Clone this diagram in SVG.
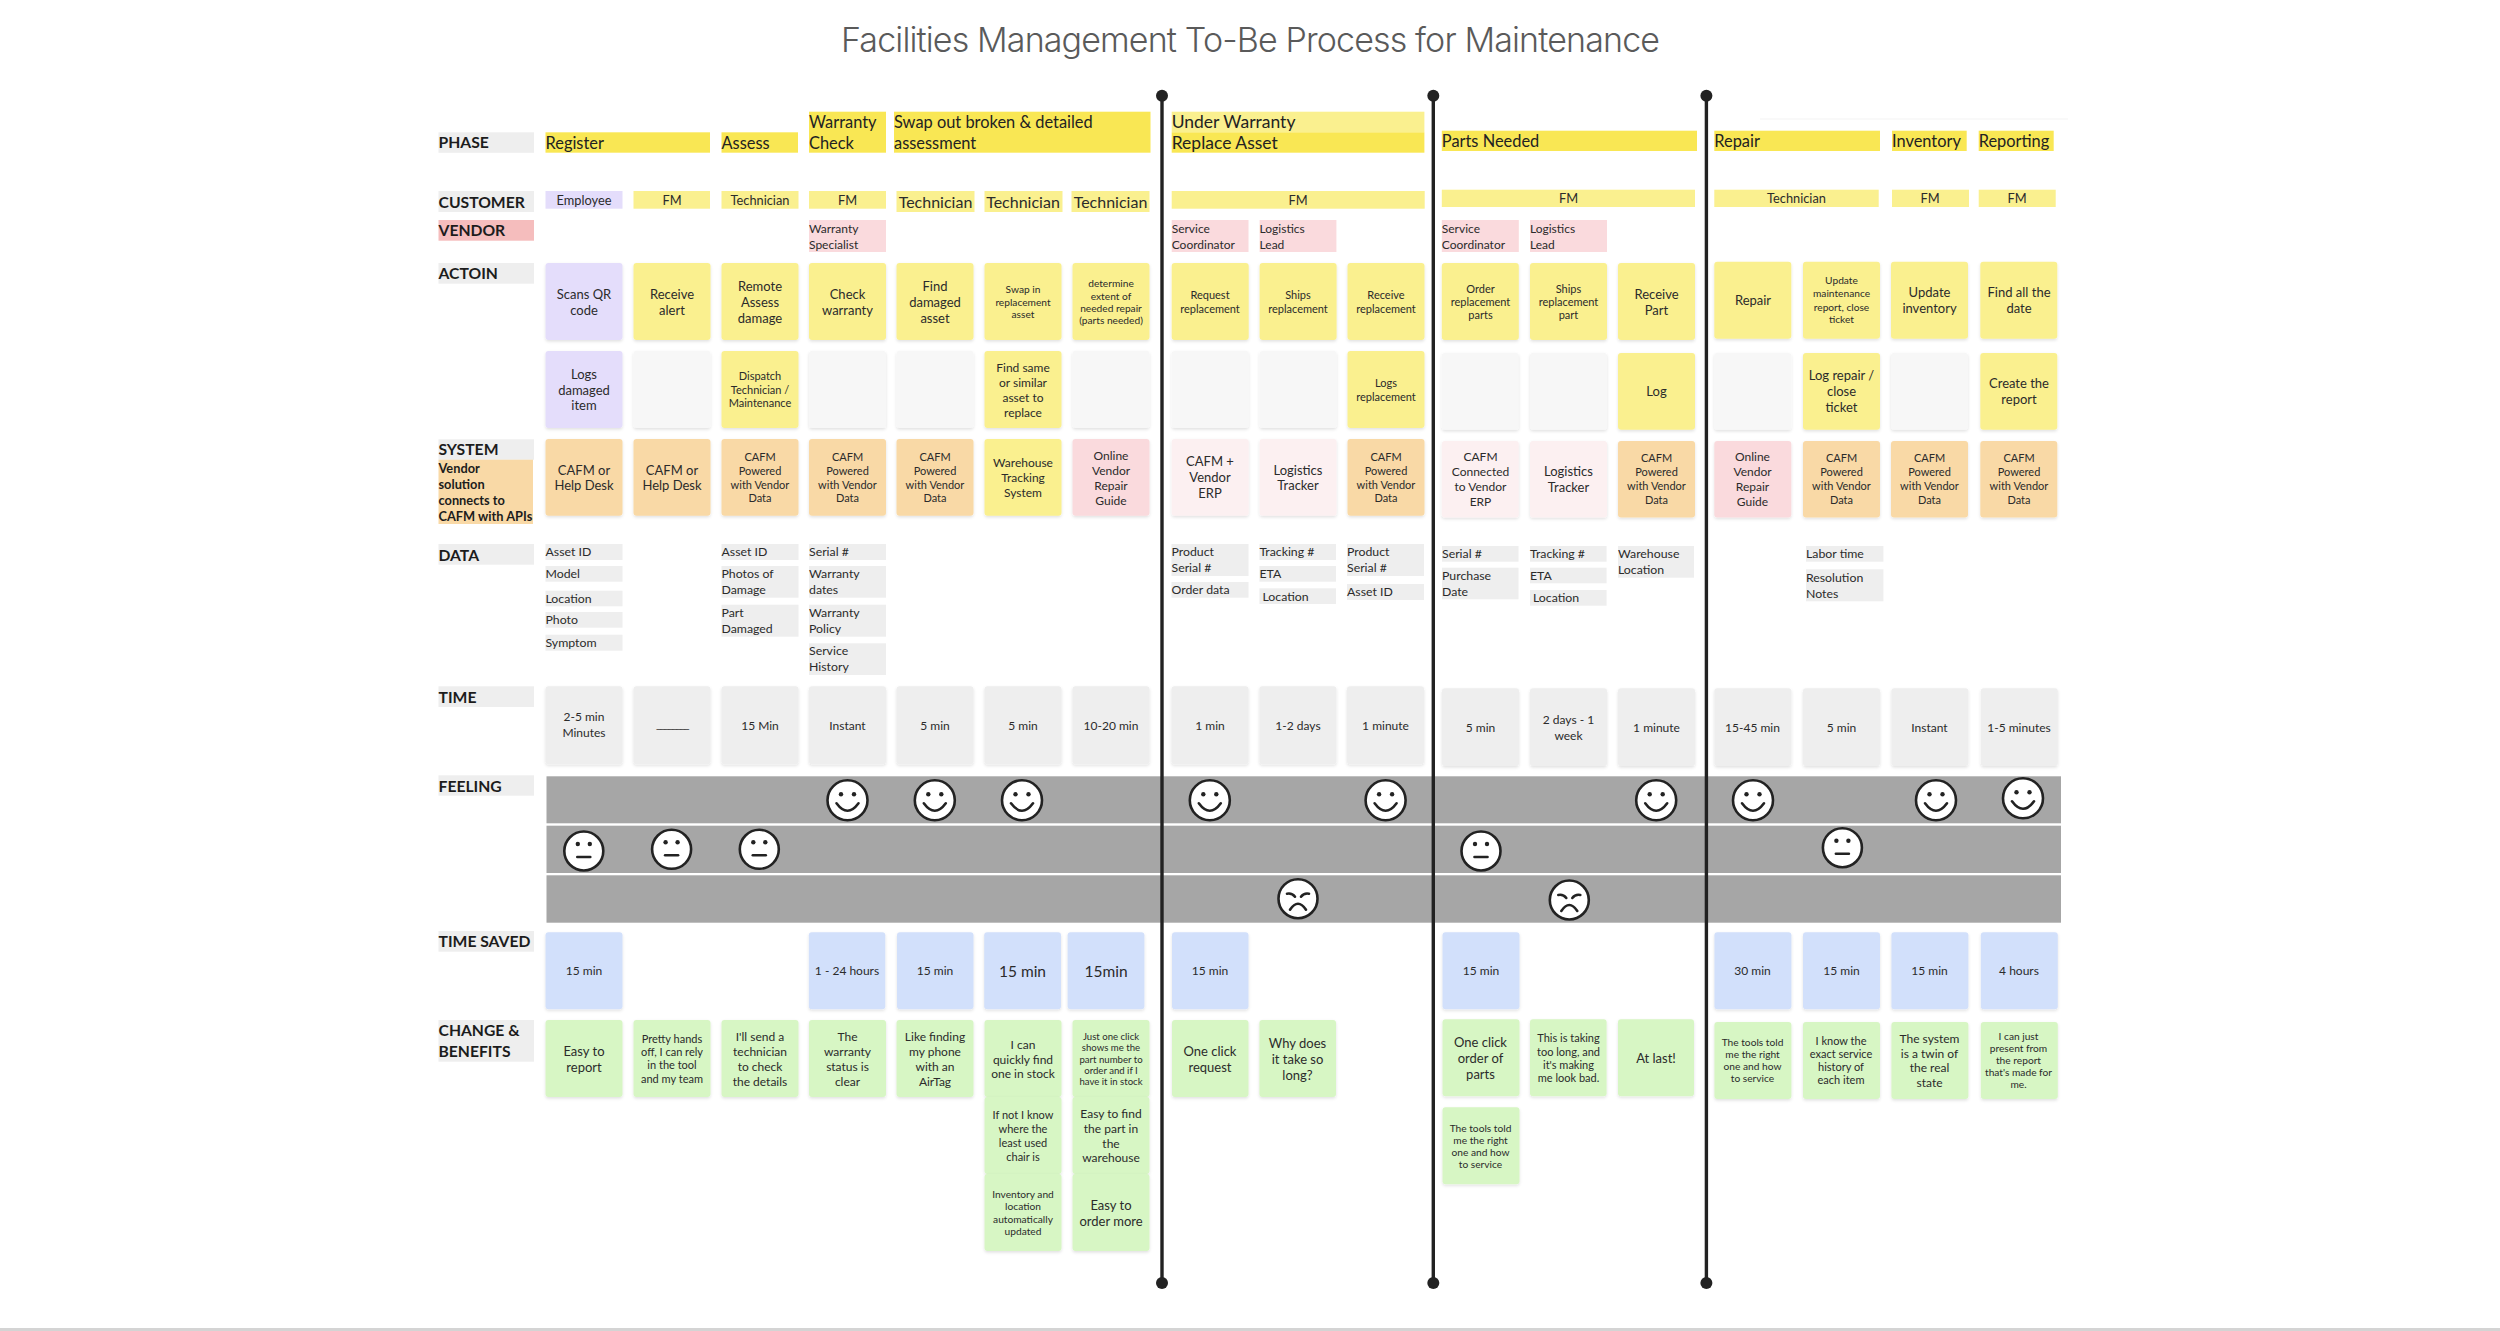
<svg xmlns="http://www.w3.org/2000/svg" width="2500" height="1331" viewBox="0 0 2500 1331">
<style>
text{font-family:Lato,"Open Sans","Liberation Sans",sans-serif;fill:#2b2b2b;font-size:12.3px}
.m{text-anchor:middle}
.card{filter:url(#sh)}
.lab{font-weight:700;font-size:15.7px;fill:#1c1c1c}
.ph{font-size:16.4px;fill:#222}
.f9{font-size:9.6px}.f10{font-size:10.2px}.f11{font-size:11px}.f12{font-size:12px}.f13{font-size:13px}.f15{font-size:15.5px}.f16{font-size:16px}
#customers .f12{font-size:12.8px}
#p-under text,#p-replace text{font-size:17.5px}
#t2 text{letter-spacing:-1.5px}
.y{fill:#f9e754}.ly{fill:#faf08f}.pu{fill:#e4ddfb}.or{fill:#f9d9a6}.pk{fill:#fadadd}.lp{fill:#fcf0f1}.gr{fill:#eeeeee}.em{fill:#f7f7f7}.gn{fill:#d7f6c4}.bl{fill:#d2e0fb}
.band{fill:#a6a6a6}
.face{fill:#fff;stroke:#222;stroke-width:2.6}
.fl{fill:none;stroke:#222;stroke-width:2.6;stroke-linecap:round}
.conn{stroke:#222;stroke-width:3.4;fill:none;marker-start:url(#dot);marker-end:url(#dot)}
</style>
<defs>
<filter id="sh" x="-10%" y="-10%" width="120%" height="120%"><feDropShadow dx="0" dy="1.5" stdDeviation="1.5" flood-color="#000" flood-opacity="0.12"/></filter>
<marker id="dot" markerUnits="userSpaceOnUse" markerWidth="14" markerHeight="14" refX="7" refY="7"><circle cx="7" cy="7" r="6" fill="#222"/></marker>
<g id="happy"><circle class="face" r="20"/><circle cx="-6.5" cy="-6" r="2.2" fill="#222"/><circle cx="6.5" cy="-6" r="2.2" fill="#222"/><path class="fl" d="M-11 3Q0 18 11 3"/></g>
<g id="neutral"><circle class="face" r="19.5"/><circle cx="-6" cy="-7" r="2.2" fill="#222"/><circle cx="6" cy="-7" r="2.2" fill="#222"/><path class="fl" d="M-6.500 6H6.500"/></g>
<g id="sad"><circle class="face" r="19.500"/><path class="fl" d="M-11 -5Q-6 -6 -3 -2M11 -5Q6 -6 3 -2"/><path class="fl" d="M-8 11Q0 -1 8 11"/></g>
</defs>
<rect width="2500" height="1331" fill="#fff"/>
<rect x="0" y="1328" width="2500" height="3" fill="#d4d4d4"/>
<rect x="1760" y="118.500" width="308" height="1" fill="#f3f3f3"/>
<text id="title" x="841" y="51.500" style="font-family:Inter,'Liberation Sans',sans-serif;font-weight:300;font-size:34px;fill:#5a5a5a" textLength="819" lengthAdjust="spacing">Facilities Management To-Be Process for Maintenance</text>

<g id="row-labels">
<g id="l-phase"><rect class="gr" x="438.500" y="132.300" width="95.500" height="20.500"/><text class="lab" x="438.500" y="148">PHASE</text></g>
<g id="l-customer"><rect class="gr" x="438.500" y="191" width="95.500" height="21"/><text class="lab" x="438.500" y="207.500">CUSTOMER</text></g>
<g id="l-vendor"><rect x="438.500" y="220" width="95.500" height="20.700" fill="#f5bdbd"/><text class="lab" x="438.500" y="236">VENDOR</text></g>
<g id="l-action"><rect class="gr" x="438.500" y="263" width="95.500" height="20.700"/><text class="lab" x="438.500" y="279">ACTOIN</text></g>
<g id="l-system"><rect class="gr" x="438.500" y="439.300" width="95.500" height="20.500"/><text class="lab" x="438.500" y="455">SYSTEM</text></g>
<g id="l-vendor-solution"><rect class="or" x="438.500" y="459.700" width="94.500" height="64.300"/><text style="font-weight:700;font-size:12.800px;fill:#1c1c1c"><tspan x="438.500" y="472.500">Vendor</tspan><tspan x="438.500" y="488.500">solution</tspan><tspan x="438.500" y="504.500">connects to</tspan><tspan x="438.500" y="520.500">CAFM with APIs</tspan></text></g>
<g id="l-data"><rect class="gr" x="438.500" y="544" width="95.500" height="20.700"/><text class="lab" x="438.500" y="560.500">DATA</text></g>
<g id="l-time"><rect class="gr" x="438.500" y="686.300" width="95.500" height="20.700"/><text class="lab" x="438.500" y="702.500">TIME</text></g>
<g id="l-feeling"><rect class="gr" x="438.500" y="775.300" width="95.500" height="20.400"/><text class="lab" x="438.500" y="791.500">FEELING</text></g>
<g id="l-saved"><rect class="gr" x="438.500" y="931" width="95.500" height="20.700"/><text class="lab" x="438.500" y="946.500">TIME SAVED</text></g>
<g id="l-change"><rect class="gr" x="438.500" y="1020" width="95.500" height="41.700"/><text class="lab"><tspan x="438.500" y="1036">CHANGE &amp;</tspan><tspan x="438.500" y="1057">BENEFITS</tspan></text></g>
</g>

<g id="phases">
<g id="p-register"><rect class="y" x="545.500" y="132.300" width="164.500" height="20.400"/><text class="ph" x="545.500" y="148.500">Register</text></g>
<g id="p-assess"><rect class="y" x="721.500" y="132.300" width="76.500" height="20.400"/><text class="ph" x="721.500" y="148.500">Assess</text></g>
<g id="p-warranty"><rect class="y" x="809" y="111.700" width="77" height="41"/><text class="ph"><tspan x="809" y="128">Warranty</tspan><tspan x="809" y="148.500">Check</tspan></text></g>
<g id="p-swap"><rect class="y" x="894" y="111.700" width="256.500" height="41"/><text class="ph"><tspan x="894" y="128">Swap out broken &amp; detailed</tspan><tspan x="894" y="148.500">assessment</tspan></text></g>
<g id="p-under"><rect class="ly" x="1171.700" y="111.700" width="252.700" height="20.600"/><text class="ph" x="1171.700" y="128">Under Warranty</text></g>
<g id="p-replace"><rect class="y" x="1171.700" y="132.300" width="252.700" height="20.400"/><text class="ph" x="1171.700" y="148.500">Replace Asset</text></g>
<g id="p-parts"><rect class="y" x="1441.800" y="130.700" width="255.200" height="20.300"/><text class="ph" x="1441.800" y="147">Parts Needed</text></g>
<g id="p-repair"><rect class="y" x="1714.300" y="130.700" width="165.700" height="20.300"/><text class="ph" x="1714.300" y="147">Repair</text></g>
<g id="p-inventory"><rect class="y" x="1892" y="130.700" width="74.700" height="20.300"/><text class="ph" x="1892" y="147">Inventory</text></g>
<g id="p-reporting"><rect class="y" x="1978.700" y="130.700" width="75" height="20.300"/><text class="ph" x="1978.700" y="147">Reporting</text></g>
</g>

<g id="customers">
<g id="c1"><rect class="pu" x="545.500" y="191" width="77" height="17.700"/><text class="m f12" x="584" y="204.500">Employee</text></g>
<g id="c2"><rect class="ly" x="633.500" y="191" width="76.500" height="17.700"/><text class="m f12" x="672" y="204.500">FM</text></g>
<g id="c3"><rect class="ly" x="721.500" y="191" width="77" height="17.700"/><text class="m f12" x="760" y="204.500">Technician</text></g>
<g id="c4"><rect class="ly" x="809" y="191" width="77" height="17.700"/><text class="m f12" x="847.500" y="204.500">FM</text></g>
<g id="c5"><rect class="ly" x="896.500" y="191" width="78" height="21"/><text class="m f16" x="935.500" y="207.500">Technician</text></g>
<g id="c6"><rect class="ly" x="984.500" y="191" width="78" height="21"/><text class="m f16" x="1023" y="207.500">Technician</text></g>
<g id="c7"><rect class="ly" x="1071.500" y="191" width="78" height="21"/><text class="m f16" x="1110.500" y="207.500">Technician</text></g>
<g id="c8"><rect class="ly" x="1171.700" y="191" width="253" height="17.700"/><text class="m f12" x="1298" y="204.500">FM</text></g>
<g id="c9"><rect class="ly" x="1441.800" y="189.700" width="253.200" height="17.300"/><text class="m f12" x="1568.500" y="203">FM</text></g>
<g id="c10"><rect class="ly" x="1714.300" y="189.700" width="164.400" height="17.300"/><text class="m f12" x="1796.500" y="203">Technician</text></g>
<g id="c11"><rect class="ly" x="1892" y="189.700" width="77" height="17.300"/><text class="m f12" x="1930" y="203">FM</text></g>
<g id="c12"><rect class="ly" x="1978.700" y="189.700" width="77" height="17.300"/><text class="m f12" x="2017" y="203">FM</text></g>
</g>

<g id="vendors">
<g id="v1"><rect class="pk" x="809" y="220" width="77" height="32"/><text class="f12"><tspan x="809" y="232.500">Warranty</tspan><tspan x="809" y="248.700">Specialist</tspan></text></g>
<g id="v2"><rect class="pk" x="1171.700" y="220" width="76.800" height="32"/><text class="f12"><tspan x="1171.700" y="232.500">Service</tspan><tspan x="1171.700" y="248.700">Coordinator</tspan></text></g>
<g id="v3"><rect class="pk" x="1259.600" y="220" width="76.800" height="32"/><text class="f12"><tspan x="1259.600" y="232.500">Logistics</tspan><tspan x="1259.600" y="248.700">Lead</tspan></text></g>
<g id="v4"><rect class="pk" x="1441.800" y="220" width="77" height="32"/><text class="f12"><tspan x="1441.800" y="232.500">Service</tspan><tspan x="1441.800" y="248.700">Coordinator</tspan></text></g>
<g id="v5"><rect class="pk" x="1530" y="220" width="77" height="32"/><text class="f12"><tspan x="1530" y="232.500">Logistics</tspan><tspan x="1530" y="248.700">Lead</tspan></text></g>
</g>

<g id="actions">
<g id="a1"><rect class="pu card" x="545.500" y="263" width="77" height="77" rx="3"/><text class="m f13"><tspan x="584" y="298.500">Scans QR</tspan><tspan x="584" y="314.500">code</tspan></text></g>
<g id="a2"><rect class="ly card" x="633.500" y="263" width="77" height="77" rx="3"/><text class="m f13"><tspan x="672" y="298.500">Receive</tspan><tspan x="672" y="314.500">alert</tspan></text></g>
<g id="a3"><rect class="ly card" x="721.500" y="263" width="77" height="77" rx="3"/><text class="m f13"><tspan x="760" y="290.500">Remote</tspan><tspan x="760" y="306.500">Assess</tspan><tspan x="760" y="322.500">damage</tspan></text></g>
<g id="a4"><rect class="ly card" x="809" y="263" width="77" height="77" rx="3"/><text class="m f13"><tspan x="847.500" y="298.500">Check</tspan><tspan x="847.500" y="314.500">warranty</tspan></text></g>
<g id="a5"><rect class="ly card" x="896.500" y="263" width="77" height="77" rx="3"/><text class="m f13"><tspan x="935" y="290.500">Find</tspan><tspan x="935" y="306.500">damaged</tspan><tspan x="935" y="322.500">asset</tspan></text></g>
<g id="a6"><rect class="ly card" x="984.500" y="263" width="77" height="77" rx="3"/><text class="m f10"><tspan x="1023" y="292.500">Swap in</tspan><tspan x="1023" y="305.500">replacement</tspan><tspan x="1023" y="318">asset</tspan></text></g>
<g id="a7"><rect class="ly card" x="1072.500" y="263" width="77" height="77" rx="3"/><text class="m f10"><tspan x="1111" y="287">determine</tspan><tspan x="1111" y="299.500">extent of</tspan><tspan x="1111" y="312">needed repair</tspan><tspan x="1111" y="324">(parts needed)</tspan></text></g>
<g id="a8"><rect class="pu card" x="545.500" y="351" width="77" height="77" rx="3"/><text class="m f13"><tspan x="584" y="378.500">Logs</tspan><tspan x="584" y="394.500">damaged</tspan><tspan x="584" y="410">item</tspan></text></g>
<g id="a9"><rect class="em card" x="633.500" y="351" width="77" height="77" rx="3"/></g>
<g id="a10"><rect class="ly card" x="721.500" y="351" width="77" height="77" rx="3"/><text class="m f11"><tspan x="760" y="380">Dispatch</tspan><tspan x="760" y="394">Technician /</tspan><tspan x="760" y="407">Maintenance</tspan></text></g>
<g id="a11"><rect class="em card" x="809" y="351" width="77" height="77" rx="3"/></g>
<g id="a12"><rect class="em card" x="896.500" y="351" width="77" height="77" rx="3"/></g>
<g id="a13"><rect class="ly card" x="984.500" y="351" width="77" height="77" rx="3"/><text class="m f12"><tspan x="1023" y="371.500">Find same</tspan><tspan x="1023" y="386.500">or similar</tspan><tspan x="1023" y="401.500">asset to</tspan><tspan x="1023" y="416.500">replace</tspan></text></g>
<g id="a14"><rect class="em card" x="1072.500" y="351" width="77" height="77" rx="3"/></g>
<g id="a15"><rect class="ly card" x="1171.700" y="263" width="77" height="77" rx="3"/><text class="m f11"><tspan x="1210" y="299">Request</tspan><tspan x="1210" y="313">replacement</tspan></text></g>
<g id="a16"><rect class="ly card" x="1259.600" y="263" width="77" height="77" rx="3"/><text class="m f11"><tspan x="1298" y="299">Ships</tspan><tspan x="1298" y="313">replacement</tspan></text></g>
<g id="a17"><rect class="ly card" x="1347.500" y="263" width="77" height="77" rx="3"/><text class="m f11"><tspan x="1386" y="299">Receive</tspan><tspan x="1386" y="313">replacement</tspan></text></g>
<g id="a18"><rect class="em card" x="1171.700" y="351" width="77" height="77" rx="3"/></g>
<g id="a19"><rect class="em card" x="1259.600" y="351" width="77" height="77" rx="3"/></g>
<g id="a20"><rect class="ly card" x="1347.500" y="351" width="77" height="77" rx="3"/><text class="m f11"><tspan x="1386" y="387">Logs</tspan><tspan x="1386" y="401">replacement</tspan></text></g>
<g id="a21"><rect class="ly card" x="1441.800" y="263" width="77" height="77" rx="3"/><text class="m f11"><tspan x="1480.500" y="292.500">Order</tspan><tspan x="1480.500" y="305.500">replacement</tspan><tspan x="1480.500" y="319">parts</tspan></text></g>
<g id="a22"><rect class="ly card" x="1530" y="263" width="77" height="77" rx="3"/><text class="m f11"><tspan x="1568.500" y="292.500">Ships</tspan><tspan x="1568.500" y="305.500">replacement</tspan><tspan x="1568.500" y="319">part</tspan></text></g>
<g id="a23"><rect class="ly card" x="1618" y="263" width="77" height="77" rx="3"/><text class="m f13"><tspan x="1656.500" y="298.500">Receive</tspan><tspan x="1656.500" y="314.500">Part</tspan></text></g>
<g id="a24"><rect class="em card" x="1441.800" y="353" width="77" height="76.700" rx="3"/></g>
<g id="a25"><rect class="em card" x="1530" y="353" width="77" height="76.700" rx="3"/></g>
<g id="a26"><rect class="ly card" x="1618" y="353" width="77" height="76.700" rx="3"/><text class="m f13" x="1656.500" y="396">Log</text></g>
<g id="a27"><rect class="ly card" x="1714.300" y="261.700" width="77" height="77" rx="3"/><text class="m f13" x="1753" y="304.500">Repair</text></g>
<g id="a28"><rect class="ly card" x="1803" y="261.700" width="77" height="77" rx="3"/><text class="m f10"><tspan x="1841.500" y="284">Update</tspan><tspan x="1841.500" y="297">maintenance</tspan><tspan x="1841.500" y="310.500">report,  close</tspan><tspan x="1841.500" y="323">ticket</tspan></text></g>
<g id="a29"><rect class="ly card" x="1891" y="261.700" width="77" height="77" rx="3"/><text class="m f13"><tspan x="1929.500" y="297">Update</tspan><tspan x="1929.500" y="313">inventory</tspan></text></g>
<g id="a30"><rect class="ly card" x="1980.300" y="261.700" width="77" height="77" rx="3"/><text class="m f13"><tspan x="2019" y="297">Find all the</tspan><tspan x="2019" y="313">date</tspan></text></g>
<g id="a31"><rect class="em card" x="1714.300" y="353" width="77" height="76.700" rx="3"/></g>
<g id="a32"><rect class="ly card" x="1803" y="353" width="77" height="76.700" rx="3"/><text class="m f13"><tspan x="1841.500" y="380">Log repair /</tspan><tspan x="1841.500" y="396">close</tspan><tspan x="1841.500" y="412">ticket</tspan></text></g>
<g id="a33"><rect class="em card" x="1891" y="353" width="77" height="76.700" rx="3"/></g>
<g id="a34"><rect class="ly card" x="1980.300" y="353" width="77" height="76.700" rx="3"/><text class="m f13"><tspan x="2019" y="388">Create the</tspan><tspan x="2019" y="404">report</tspan></text></g>
</g>

<g id="systems">
<g id="s1"><rect class="or card" x="545.500" y="439" width="77" height="76.700" rx="3"/><text class="m f13"><tspan x="584" y="474.500">CAFM or</tspan><tspan x="584" y="490">Help Desk</tspan></text></g>
<g id="s2"><rect class="or card" x="633.500" y="439" width="77" height="76.700" rx="3"/><text class="m f13"><tspan x="672" y="474.500">CAFM or</tspan><tspan x="672" y="490">Help Desk</tspan></text></g>
<g id="s3"><rect class="or card" x="721.500" y="439" width="77" height="76.700" rx="3"/><text class="m f11"><tspan x="760" y="460.500">CAFM</tspan><tspan x="760" y="474.500">Powered</tspan><tspan x="760" y="488.500">with Vendor</tspan><tspan x="760" y="502">Data</tspan></text></g>
<g id="s4"><rect class="or card" x="809" y="439" width="77" height="76.700" rx="3"/><text class="m f11"><tspan x="847.500" y="460.500">CAFM</tspan><tspan x="847.500" y="474.500">Powered</tspan><tspan x="847.500" y="488.500">with Vendor</tspan><tspan x="847.500" y="502">Data</tspan></text></g>
<g id="s5"><rect class="or card" x="896.500" y="439" width="77" height="76.700" rx="3"/><text class="m f11"><tspan x="935" y="460.500">CAFM</tspan><tspan x="935" y="474.500">Powered</tspan><tspan x="935" y="488.500">with Vendor</tspan><tspan x="935" y="502">Data</tspan></text></g>
<g id="s6"><rect class="ly card" x="984.500" y="439" width="77" height="76.700" rx="3"/><text class="m f12"><tspan x="1023" y="467">Warehouse</tspan><tspan x="1023" y="482">Tracking</tspan><tspan x="1023" y="497">System</tspan></text></g>
<g id="s7"><rect class="pk card" x="1072.500" y="439" width="77" height="76.700" rx="3"/><text class="m f12"><tspan x="1111" y="459.500">Online</tspan><tspan x="1111" y="474.500">Vendor</tspan><tspan x="1111" y="489.500">Repair</tspan><tspan x="1111" y="504.500">Guide</tspan></text></g>
<g id="s8"><rect class="lp card" x="1171.700" y="439" width="77" height="76.700" rx="3"/><text class="m f13"><tspan x="1210" y="466">CAFM +</tspan><tspan x="1210" y="482">Vendor</tspan><tspan x="1210" y="498">ERP</tspan></text></g>
<g id="s9"><rect class="lp card" x="1259.600" y="439" width="77" height="76.700" rx="3"/><text class="m f13"><tspan x="1298" y="474.500">Logistics</tspan><tspan x="1298" y="490">Tracker</tspan></text></g>
<g id="s10"><rect class="or card" x="1347.500" y="439" width="77" height="76.700" rx="3"/><text class="m f11"><tspan x="1386" y="460.500">CAFM</tspan><tspan x="1386" y="474.500">Powered</tspan><tspan x="1386" y="488.500">with Vendor</tspan><tspan x="1386" y="502">Data</tspan></text></g>
<g id="s11"><rect class="lp card" x="1441.800" y="441" width="77" height="76.400" rx="3"/><text class="m f12"><tspan x="1480.500" y="461">CAFM</tspan><tspan x="1480.500" y="476">Connected</tspan><tspan x="1480.500" y="491">to Vendor</tspan><tspan x="1480.500" y="505.500">ERP</tspan></text></g>
<g id="s12"><rect class="lp card" x="1530" y="441" width="77" height="76.400" rx="3"/><text class="m f13"><tspan x="1568.500" y="476">Logistics</tspan><tspan x="1568.500" y="492">Tracker</tspan></text></g>
<g id="s13"><rect class="or card" x="1618" y="441" width="77" height="76.400" rx="3"/><text class="m f11"><tspan x="1656.500" y="462">CAFM</tspan><tspan x="1656.500" y="476">Powered</tspan><tspan x="1656.500" y="490">with Vendor</tspan><tspan x="1656.500" y="503.500">Data</tspan></text></g>
<g id="s14"><rect class="pk card" x="1714.300" y="441" width="77" height="76.400" rx="3"/><text class="m f12"><tspan x="1752.500" y="461">Online</tspan><tspan x="1752.500" y="476">Vendor</tspan><tspan x="1752.500" y="491">Repair</tspan><tspan x="1752.500" y="505.500">Guide</tspan></text></g>
<g id="s15"><rect class="or card" x="1803" y="441" width="77" height="76.400" rx="3"/><text class="m f11"><tspan x="1841.500" y="462">CAFM</tspan><tspan x="1841.500" y="476">Powered</tspan><tspan x="1841.500" y="490">with Vendor</tspan><tspan x="1841.500" y="503.500">Data</tspan></text></g>
<g id="s16"><rect class="or card" x="1891" y="441" width="77" height="76.400" rx="3"/><text class="m f11"><tspan x="1929.500" y="462">CAFM</tspan><tspan x="1929.500" y="476">Powered</tspan><tspan x="1929.500" y="490">with Vendor</tspan><tspan x="1929.500" y="503.500">Data</tspan></text></g>
<g id="s17"><rect class="or card" x="1980.300" y="441" width="77" height="76.400" rx="3"/><text class="m f11"><tspan x="2019" y="462">CAFM</tspan><tspan x="2019" y="476">Powered</tspan><tspan x="2019" y="490">with Vendor</tspan><tspan x="2019" y="503.500">Data</tspan></text></g>
</g>

<g id="data">
<g id="d1"><rect class="gr" x="545.500" y="544" width="77" height="16"/><text x="545.500" y="556.300">Asset ID</text></g>
<g id="d2"><rect class="gr" x="545.500" y="566" width="77" height="15.700"/><text x="545.500" y="578">Model</text></g>
<g id="d3"><rect class="gr" x="545.500" y="590.700" width="77" height="15.600"/><text x="545.500" y="602.700">Location</text></g>
<g id="d4"><rect class="gr" x="545.500" y="612" width="77" height="15.700"/><text x="545.500" y="624.300">Photo</text></g>
<g id="d5"><rect class="gr" x="545.500" y="634.700" width="77" height="16"/><text x="545.500" y="646.700">Symptom</text></g>
<g id="d6"><rect class="gr" x="721.500" y="544" width="77" height="16"/><text x="721.500" y="556.300">Asset ID</text></g>
<g id="d7"><rect class="gr" x="721.500" y="566" width="77" height="31.700"/><text><tspan x="721.500" y="578">Photos of</tspan><tspan x="721.500" y="594.300">Damage</tspan></text></g>
<g id="d8"><rect class="gr" x="721.500" y="604.700" width="77" height="32"/><text><tspan x="721.500" y="617">Part</tspan><tspan x="721.500" y="633">Damaged</tspan></text></g>
<g id="d9"><rect class="gr" x="809" y="544" width="77" height="16"/><text x="809" y="556.300">Serial #</text></g>
<g id="d10"><rect class="gr" x="809" y="566" width="77" height="31.700"/><text><tspan x="809" y="578">Warranty</tspan><tspan x="809" y="594.300">dates</tspan></text></g>
<g id="d11"><rect class="gr" x="809" y="604.700" width="77" height="32"/><text><tspan x="809" y="617">Warranty</tspan><tspan x="809" y="633">Policy</tspan></text></g>
<g id="d12"><rect class="gr" x="809" y="643.300" width="77" height="31.700"/><text><tspan x="809" y="655.300">Service</tspan><tspan x="809" y="671.300">History</tspan></text></g>
<g id="d13"><rect class="gr" x="1171.500" y="544" width="77" height="32"/><text><tspan x="1171.500" y="556.300">Product</tspan><tspan x="1171.500" y="572.300">Serial #</tspan></text></g>
<g id="d14"><rect class="gr" x="1171.500" y="582" width="77" height="15.700"/><text x="1171.500" y="594.300">Order data</text></g>
<g id="d15"><rect class="gr" x="1259.400" y="544" width="76.600" height="16"/><text x="1259.400" y="556.300">Tracking #</text></g>
<g id="d16"><rect class="gr" x="1259.400" y="566" width="76.600" height="15.700"/><text x="1259.400" y="578">ETA</text></g>
<g id="d17"><rect class="gr" x="1259.400" y="588.300" width="76.600" height="15.700"/><text x="1262.500" y="600.700">Location</text></g>
<g id="d18"><rect class="gr" x="1347" y="544" width="77" height="32"/><text><tspan x="1347" y="556.300">Product</tspan><tspan x="1347" y="572.300">Serial #</tspan></text></g>
<g id="d19"><rect class="gr" x="1347" y="584" width="77" height="16"/><text x="1347" y="596">Asset ID</text></g>
<g id="d20"><rect class="gr" x="1442" y="546" width="76.500" height="15.700"/><text x="1442" y="558">Serial #</text></g>
<g id="d21"><rect class="gr" x="1442" y="567.700" width="76.500" height="31.600"/><text><tspan x="1442" y="579.700">Purchase</tspan><tspan x="1442" y="595.700">Date</tspan></text></g>
<g id="d22"><rect class="gr" x="1530" y="546" width="76.600" height="15.700"/><text x="1530" y="558">Tracking #</text></g>
<g id="d23"><rect class="gr" x="1530" y="567.700" width="76.600" height="15.600"/><text x="1530" y="579.700">ETA</text></g>
<g id="d24"><rect class="gr" x="1530" y="590" width="76.600" height="15.700"/><text x="1533" y="602.300">Location</text></g>
<g id="d25"><rect class="gr" x="1618" y="546" width="76" height="31.700"/><text><tspan x="1618" y="558">Warehouse</tspan><tspan x="1618" y="574">Location</tspan></text></g>
<g id="d26"><rect class="gr" x="1806" y="546" width="77.400" height="15.700"/><text x="1806" y="558">Labor time</text></g>
<g id="d27"><rect class="gr" x="1806" y="569.300" width="77.400" height="32"/><text><tspan x="1806" y="581.700">Resolution</tspan><tspan x="1806" y="597.700">Notes</tspan></text></g>
</g>

<g id="times">
<g id="t1"><rect class="gr card" x="545.500" y="686.300" width="77" height="78" rx="3"/><text class="m f12"><tspan x="584" y="721">2-5 min</tspan><tspan x="584" y="737">Minutes</tspan></text></g>
<g id="t2"><rect class="gr card" x="633.500" y="686.300" width="77" height="78" rx="3"/><text class="m f12" x="672" y="728">________</text></g>
<g id="t3"><rect class="gr card" x="721.500" y="686.300" width="77" height="78" rx="3"/><text class="m f12" x="760" y="729.500">15 Min</text></g>
<g id="t4"><rect class="gr card" x="809" y="686.300" width="77" height="78" rx="3"/><text class="m f12" x="847.500" y="729.500">Instant</text></g>
<g id="t5"><rect class="gr card" x="896.500" y="686.300" width="77" height="78" rx="3"/><text class="m f12" x="935" y="729.500">5 min</text></g>
<g id="t6"><rect class="gr card" x="984.500" y="686.300" width="77" height="78" rx="3"/><text class="m f12" x="1023" y="729.500">5 min</text></g>
<g id="t7"><rect class="gr card" x="1072.500" y="686.300" width="77" height="78" rx="3"/><text class="m f12" x="1111" y="729.500">10-20 min</text></g>
<g id="t8"><rect class="gr card" x="1171.500" y="686.300" width="77" height="78" rx="3"/><text class="m f12" x="1210" y="729.500">1 min</text></g>
<g id="t9"><rect class="gr card" x="1259.400" y="686.300" width="77" height="78" rx="3"/><text class="m f12" x="1298" y="729.500">1-2 days</text></g>
<g id="t10"><rect class="gr card" x="1347" y="686.300" width="77" height="78" rx="3"/><text class="m f12" x="1385.500" y="729.500">1 minute</text></g>
<g id="t11"><rect class="gr card" x="1442" y="688.300" width="77" height="77.700" rx="3"/><text class="m f12" x="1480.500" y="731.500">5 min</text></g>
<g id="t12"><rect class="gr card" x="1530" y="688.300" width="77" height="77.700" rx="3"/><text class="m f12"><tspan x="1568.500" y="723.500">2 days - 1</tspan><tspan x="1568.500" y="739.500">week</tspan></text></g>
<g id="t13"><rect class="gr card" x="1618" y="688.300" width="77" height="77.700" rx="3"/><text class="m f12" x="1656.500" y="731.500">1 minute</text></g>
<g id="t14"><rect class="gr card" x="1714.400" y="688.300" width="77" height="77.700" rx="3"/><text class="m f12" x="1752.500" y="731.500">15-45 min</text></g>
<g id="t15"><rect class="gr card" x="1803" y="688.300" width="77" height="77.700" rx="3"/><text class="m f12" x="1841.500" y="731.500">5 min</text></g>
<g id="t16"><rect class="gr card" x="1891.400" y="688.300" width="77" height="77.700" rx="3"/><text class="m f12" x="1929.500" y="731.500">Instant</text></g>
<g id="t17"><rect class="gr card" x="1980.800" y="688.300" width="77" height="77.700" rx="3"/><text class="m f12" x="2019" y="731.500">1-5 minutes</text></g>
</g>

<g id="feeling">
<rect id="band-high" class="band" x="546.500" y="776.300" width="1514.500" height="47"/>
<rect id="band-mid" class="band" x="546.500" y="825.700" width="1514.500" height="47.300"/>
<rect id="band-low" class="band" x="546.500" y="875.300" width="1514.500" height="47.400"/>
</g>

<g id="connectors">
<line class="conn" x1="1162" y1="95.700" x2="1162" y2="1283"/>
<line class="conn" x1="1433.300" y1="95.700" x2="1433.300" y2="1283"/>
<line class="conn" x1="1706.400" y1="95.700" x2="1706.400" y2="1283"/>
</g>

<g id="faces">
<use id="f1" href="#neutral" x="583.800" y="851"/>
<use id="f2" href="#neutral" x="671.600" y="849.300"/>
<use id="f3" href="#neutral" x="759.300" y="849.300"/>
<use id="f4" href="#happy" x="847.500" y="800.300"/>
<use id="f5" href="#happy" x="934.800" y="800.300"/>
<use id="f6" href="#happy" x="1022" y="800.300"/>
<use id="f7" href="#happy" x="1209.800" y="800.300"/>
<use id="f8" href="#sad" x="1298" y="898.700"/>
<use id="f9" href="#happy" x="1385.600" y="800.300"/>
<use id="f10" href="#neutral" x="1481" y="851"/>
<use id="f11" href="#sad" x="1569.300" y="900"/>
<use id="f12" href="#happy" x="1656.200" y="800.300"/>
<use id="f13" href="#happy" x="1753" y="800.300"/>
<use id="f14" href="#neutral" x="1842.400" y="847.700"/>
<use id="f15" href="#happy" x="1936" y="800.300"/>
<use id="f16" href="#happy" x="2023" y="798.300"/>
</g>

<g id="saved">
<g id="ts1"><rect class="bl card" x="545.500" y="932.300" width="77" height="77" rx="3"/><text class="m f12" x="584" y="975">15 min</text></g>
<g id="ts2"><rect class="bl card" x="808.800" y="932.300" width="76.500" height="77" rx="3"/><text class="m f12" x="847" y="975">1 - 24 hours</text></g>
<g id="ts3"><rect class="bl card" x="897" y="932.300" width="76.500" height="77" rx="3"/><text class="m f12" x="935" y="975">15 min</text></g>
<g id="ts4"><rect class="bl card" x="984.200" y="932.300" width="76.800" height="77" rx="3"/><text class="m f15" x="1022.500" y="976.500">15 min</text></g>
<g id="ts5"><rect class="bl card" x="1067.600" y="932.300" width="76.800" height="77" rx="3"/><text class="m f15" x="1106" y="976.500">15min</text></g>
<g id="ts6"><rect class="bl card" x="1172" y="932.300" width="76.500" height="77" rx="3"/><text class="m f12" x="1210" y="975">15 min</text></g>
<g id="ts7"><rect class="bl card" x="1442.500" y="932.300" width="77" height="77" rx="3"/><text class="m f12" x="1481" y="975">15 min</text></g>
<g id="ts8"><rect class="bl card" x="1714.400" y="932.300" width="77" height="77" rx="3"/><text class="m f12" x="1752.500" y="975">30 min</text></g>
<g id="ts9"><rect class="bl card" x="1803" y="932.300" width="77" height="77" rx="3"/><text class="m f12" x="1841.500" y="975">15 min</text></g>
<g id="ts10"><rect class="bl card" x="1891.400" y="932.300" width="77" height="77" rx="3"/><text class="m f12" x="1929.500" y="975">15 min</text></g>
<g id="ts11"><rect class="bl card" x="1980.800" y="932.300" width="77" height="77" rx="3"/><text class="m f12" x="2019" y="975">4 hours</text></g>
</g>

<g id="benefits">
<g id="b1"><rect class="gn card" x="545.500" y="1020" width="77" height="77" rx="3"/><text class="m f13"><tspan x="584" y="1055.500">Easy to</tspan><tspan x="584" y="1071.500">report</tspan></text></g>
<g id="b2"><rect class="gn card" x="633.500" y="1020" width="77" height="77" rx="3"/><text class="m f11"><tspan x="672" y="1043">Pretty hands</tspan><tspan x="672" y="1056">off, I can rely</tspan><tspan x="672" y="1069">in the tool</tspan><tspan x="672" y="1082.500">and my team</tspan></text></g>
<g id="b3"><rect class="gn card" x="721.500" y="1020" width="77" height="77" rx="3"/><text class="m f12"><tspan x="760" y="1040.500">I'll send a</tspan><tspan x="760" y="1055.500">technician</tspan><tspan x="760" y="1070.500">to check</tspan><tspan x="760" y="1085.500">the details</tspan></text></g>
<g id="b4"><rect class="gn card" x="809" y="1020" width="77" height="77" rx="3"/><text class="m f12"><tspan x="847.500" y="1040.500">The</tspan><tspan x="847.500" y="1055.500">warranty</tspan><tspan x="847.500" y="1070.500">status  is</tspan><tspan x="847.500" y="1085.500">clear</tspan></text></g>
<g id="b5"><rect class="gn card" x="896.500" y="1020" width="77" height="77" rx="3"/><text class="m f12"><tspan x="935" y="1040.500">Like finding</tspan><tspan x="935" y="1055.500">my phone</tspan><tspan x="935" y="1070.500">with an</tspan><tspan x="935" y="1085.500">AirTag</tspan></text></g>
<g id="b6"><rect class="gn card" x="984.500" y="1020" width="77" height="77" rx="3"/><text class="m f12"><tspan x="1023" y="1048.500">I can</tspan><tspan x="1023" y="1063.500">quickly find</tspan><tspan x="1023" y="1078">one in stock</tspan></text></g>
<g id="b7"><rect class="gn card" x="1072.500" y="1020" width="77" height="77" rx="3"/><text class="m f9"><tspan x="1111" y="1039.500">Just one click</tspan><tspan x="1111" y="1051">shows me the</tspan><tspan x="1111" y="1062.500">part number to</tspan><tspan x="1111" y="1073.500">order and if I</tspan><tspan x="1111" y="1085">have it in stock</tspan></text></g>
<g id="b8"><rect class="gn card" x="984.500" y="1097" width="77" height="77" rx="3"/><text class="m f11"><tspan x="1023" y="1119">If not I know</tspan><tspan x="1023" y="1133">where the</tspan><tspan x="1023" y="1146.500">least used</tspan><tspan x="1023" y="1160.500">chair is</tspan></text></g>
<g id="b9"><rect class="gn card" x="1072.500" y="1097" width="77" height="77" rx="3"/><text class="m f12"><tspan x="1111" y="1118">Easy to find</tspan><tspan x="1111" y="1133">the part in</tspan><tspan x="1111" y="1147.500">the</tspan><tspan x="1111" y="1162">warehouse</tspan></text></g>
<g id="b10"><rect class="gn card" x="984.500" y="1174" width="77" height="77" rx="3"/><text class="m f10"><tspan x="1023" y="1197.500">Inventory and</tspan><tspan x="1023" y="1210">location</tspan><tspan x="1023" y="1222.500">automatically</tspan><tspan x="1023" y="1235">updated</tspan></text></g>
<g id="b11"><rect class="gn card" x="1072.500" y="1174" width="77" height="77" rx="3"/><text class="m f13"><tspan x="1111" y="1209.500">Easy to</tspan><tspan x="1111" y="1225.500">order more</tspan></text></g>
<g id="b12"><rect class="gn card" x="1172" y="1020" width="76.500" height="77" rx="3"/><text class="m f13"><tspan x="1210" y="1055.500">One click</tspan><tspan x="1210" y="1071.500">request</tspan></text></g>
<g id="b13"><rect class="gn card" x="1259.400" y="1020" width="76.600" height="77" rx="3"/><text class="m f13"><tspan x="1297.500" y="1048">Why does</tspan><tspan x="1297.500" y="1064">it take so</tspan><tspan x="1297.500" y="1079.500">long?</tspan></text></g>
<g id="b14"><rect class="gn card" x="1442.500" y="1019.300" width="77" height="77" rx="3"/><text class="m f13"><tspan x="1480.500" y="1047">One click</tspan><tspan x="1480.500" y="1063">order of</tspan><tspan x="1480.500" y="1079">parts</tspan></text></g>
<g id="b15"><rect class="gn card" x="1530" y="1019.300" width="76.600" height="77" rx="3"/><text class="m f11"><tspan x="1568.500" y="1042">This is taking</tspan><tspan x="1568.500" y="1055.500">too long, and</tspan><tspan x="1568.500" y="1068.500">it's making</tspan><tspan x="1568.500" y="1081.500">me look bad.</tspan></text></g>
<g id="b16"><rect class="gn card" x="1618" y="1019.300" width="76" height="77" rx="3"/><text class="m f13" x="1656" y="1063">At last!</text></g>
<g id="b17"><rect class="gn card" x="1442.500" y="1107.300" width="77" height="77" rx="3"/><text class="m f10"><tspan x="1480.500" y="1131.500">The tools told</tspan><tspan x="1480.500" y="1143.500">me the right</tspan><tspan x="1480.500" y="1155.500">one and how</tspan><tspan x="1480.500" y="1167.500">to service</tspan></text></g>
<g id="b18"><rect class="gn card" x="1714.400" y="1022" width="77" height="77" rx="3"/><text class="m f10"><tspan x="1752.500" y="1046">The tools told</tspan><tspan x="1752.500" y="1058">me the right</tspan><tspan x="1752.500" y="1070">one and how</tspan><tspan x="1752.500" y="1082">to service</tspan></text></g>
<g id="b19"><rect class="gn card" x="1803" y="1022" width="77" height="77" rx="3"/><text class="m f11"><tspan x="1841" y="1045">I know the</tspan><tspan x="1841" y="1058">exact service</tspan><tspan x="1841" y="1071">history of</tspan><tspan x="1841" y="1084">each item</tspan></text></g>
<g id="b20"><rect class="gn card" x="1891.400" y="1022" width="77" height="77" rx="3"/><text class="m f12"><tspan x="1929.500" y="1042.500">The system</tspan><tspan x="1929.500" y="1057.500">is a twin of</tspan><tspan x="1929.500" y="1072">the real</tspan><tspan x="1929.500" y="1087">state</tspan></text></g>
<g id="b21"><rect class="gn card" x="1980.800" y="1022" width="77" height="77" rx="3"/><text class="m f10"><tspan x="2018.500" y="1040">I can just</tspan><tspan x="2018.500" y="1052">present from</tspan><tspan x="2018.500" y="1064">the report</tspan><tspan x="2018.500" y="1076">that's made for</tspan><tspan x="2018.500" y="1088">me.</tspan></text></g>
</g>
</svg>
